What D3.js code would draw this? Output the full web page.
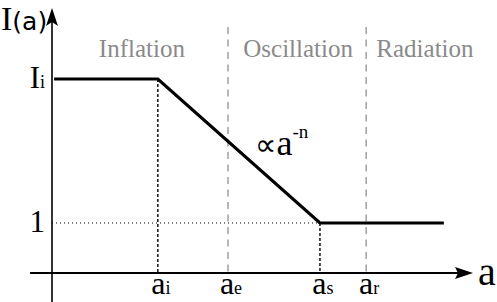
<!DOCTYPE html>
<html><head><meta charset="utf-8">
<script src="https://cdn.jsdelivr.net/npm/d3@7"></script>
<style>body{margin:0;background:#fff}svg{display:block}</style>
</head><body>
<script>
// Conceptual data (log-log sketch)
const tickNames = ["a", "a", "a", "a"];
const tickSubs = ["i", "e", "s", "r"];
const tickValues = [2.52, 4.19, 6.38, 7.48];       // a_i, a_e, a_s, a_r
const curveA = [0.05, 2.52, 6.38, 9.33];            // log a of curve knots
const curveI = [3, 3, 0, 0];                         // log I of curve knots
const levelNames = ["I", "1"];
const levelSubs = ["i", ""];
const levelValues = [3, 0];
const phases = ["Inflation", "Oscillation", "Radiation"];
const phaseCenters = [2.14, 5.86, 8.88];

const W = 497, H = 302;
const svg = d3.select("body").append("svg").attr("width", W).attr("height", H);
const x = d3.scaleLinear().domain([0, 10]).range([52, 472]);
const y = d3.scaleLinear().domain([0, 3]).range([223, 79]);
const axisY = 273;
const serif = "'Liberation Serif', 'Times New Roman', serif";

// gray phase boundaries
[tickValues[1], tickValues[3]].forEach(v => {
  svg.append("line").attr("x1", x(v)).attr("x2", x(v)).attr("y1", 27).attr("y2", axisY)
    .attr("stroke", "#999").attr("stroke-width", 1.4).attr("stroke-dasharray", "7,5.5");
});
// black dashed verticals from curve corners
[[tickValues[0], levelValues[0]], [tickValues[2], levelValues[1]]].forEach(([a, l]) => {
  svg.append("line").attr("x1", x(a)).attr("x2", x(a)).attr("y1", y(l)).attr("y2", axisY)
    .attr("stroke", "#000").attr("stroke-width", 1.4).attr("stroke-dasharray", "3,2");
});
// dotted level 1
svg.append("line").attr("x1", x(0)).attr("x2", x(tickValues[2])).attr("y1", y(0)).attr("y2", y(0))
  .attr("stroke", "#000").attr("stroke-width", 1).attr("stroke-dasharray", "1,3");

// curve
const pts = curveA.map((a, i) => [x(a), y(curveI[i])]);
svg.append("path").attr("d", d3.line()(pts)).attr("fill", "none")
  .attr("stroke", "#000").attr("stroke-width", 3.2).attr("stroke-linejoin", "miter");

// axes
svg.append("line").attr("x1", 30).attr("x2", 462).attr("y1", axisY).attr("y2", axisY)
  .attr("stroke", "#000").attr("stroke-width", 2);
svg.append("path").attr("d", `M473,${axisY} L455,${axisY-6} L458,${axisY} L455,${axisY+6} Z`).attr("fill", "#000");
svg.append("line").attr("x1", x(0)).attr("x2", x(0)).attr("y1", 302).attr("y2", 20)
  .attr("stroke", "#000").attr("stroke-width", 1.6);
svg.append("path").attr("d", `M${x(0)},8 L${x(0)-6},26 L${x(0)},22 L${x(0)+6},26 Z`).attr("fill", "#000");

// phase labels
phases.forEach((p, i) => {
  svg.append("text").attr("x", x(phaseCenters[i])).attr("y", 57).attr("text-anchor", "middle")
    .attr("font-family", serif).attr("font-size", 25).attr("fill", "#8a8a8a").text(p);
});

// tick labels
tickValues.forEach((v, i) => {
  const t = svg.append("text").attr("x", x(v) + 3).attr("y", 294).attr("text-anchor", "middle")
    .attr("font-family", serif).attr("font-size", 32).attr("fill", "#000");
  t.append("tspan").text(tickNames[i]);
  t.append("tspan").attr("font-size", 18).text(tickSubs[i]);
});
// axis label a
svg.append("text").attr("x", 478).attr("y", 285).attr("font-family", serif)
  .attr("font-size", 40).attr("fill", "#000").text("a");

// y level labels
levelValues.forEach((v, i) => {
  const t = svg.append("text").attr("x", 45).attr("y", y(v) + 9).attr("text-anchor", "end")
    .attr("font-family", serif).attr("font-size", 31).attr("fill", "#000");
  t.append("tspan").text(levelNames[i]);
  if (levelSubs[i]) t.append("tspan").attr("font-size", 18).text(levelSubs[i]);
});

// y axis title I(a)
const yt = svg.append("text").attr("x", 1).attr("y", 30).attr("fill", "#000");
yt.append("tspan").attr("font-family", serif).attr("font-size", 34).text("I");
yt.append("tspan").attr("font-family", "'DejaVu Sans', sans-serif").attr("font-size", 25).text("(a)");

// proportionality annotation
const an = svg.append("text").attr("x", 255).attr("y", 155).attr("fill", "#000").attr("font-family", serif).attr("font-size", 36);
an.append("tspan").attr("font-family", "'DejaVu Sans', sans-serif").attr("font-size", 30).text("∝");
an.append("tspan").text("a");
an.append("tspan").attr("font-size", 19).attr("dy", -17).text("-n");
</script>
</body></html>
